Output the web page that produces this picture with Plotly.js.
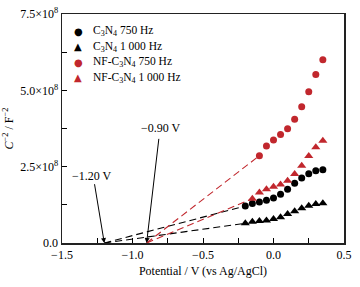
<!DOCTYPE html>
<html>
<head>
<meta charset="utf-8">
<script src="https://cdn.plot.ly/plotly-3.0.1.min.js"></script>
<style>html,body{margin:0;padding:0;background:#fff;}#chart{width:360px;height:287px;}</style>
</head>
<body>
<div id="chart"></div>
<script>
// Data
const potC3N4 = [-0.20,-0.15,-0.10,-0.05,0.00,0.05,0.10,0.15,0.20,0.25,0.30,0.35];
const c3n4_750 = [1.21,1.29,1.34,1.40,1.47,1.60,1.76,1.96,2.13,2.27,2.37,2.40];
const c3n4_1000 = [0.645,0.70,0.72,0.74,0.79,0.84,0.95,1.04,1.14,1.22,1.28,1.30];
const potNF750 = [-0.10,-0.05,0.00,0.05,0.10,0.15,0.20,0.25,0.30,0.35];
const nf_750 = [2.86,3.18,3.37,3.55,3.74,4.05,4.46,4.95,5.52,6.00];
const potNF1000 = [-0.15,-0.10,-0.05,0.00,0.05,0.10,0.15,0.20,0.25,0.30,0.35];
const nf_1000 = [1.45,1.65,1.76,1.84,1.92,2.04,2.26,2.53,2.85,3.14,3.35];
const scale = 1e8;
// Extrapolated flat-band intercepts
const fbC3N4 = -1.20;
const fbNF = -0.90;
const seriesNames = ['C<sub>3</sub>N<sub>4</sub> 750 Hz','C<sub>3</sub>N<sub>4</sub> 1 000 Hz','NF-C<sub>3</sub>N<sub>4</sub> 750 Hz','NF-C<sub>3</sub>N<sub>4</sub> 1 000 Hz'];
const seriesSymbols = ['●','▲','●','▲'];
const yTickVals = [0,1.25,2.5,3.75,5.0,6.25,7.5];
const yTickText = ['0.0','','2.5×10<sup>8</sup>','','5.0×10<sup>8</sup>','','7.5×10<sup>8</sup>'];
const xTickVals = [-1.5,-1.25,-1.0,-0.75,-0.5,-0.25,0,0.25,0.5];
const xTickText = ['−1.5','','−1.0','','−0.5','','0.0','','0.5'];

const red = '#c1272d';
const seriesColors = ['#000','#000',red,red];
const sc = a => a.map(v => v*scale);

function fitLine(x0, xs, ys, color) {
  return {x:[x0, xs[0]], y:[0, ys[0]*scale], mode:'lines', showlegend:false, hoverinfo:'skip',
    line:{color:color, width:1.1, dash:'7px,4px'}};
}

const traces = [
  fitLine(fbC3N4, potC3N4, c3n4_750, '#000'),
  fitLine(fbC3N4, potC3N4, c3n4_1000, '#000'),
  fitLine(fbNF, potNF750, nf_750, red),
  fitLine(fbNF, potNF1000, nf_1000, red),
  {x:potC3N4, y:sc(c3n4_750), mode:'markers', showlegend:false, marker:{symbol:'circle', size:7, color:'#000'}},
  {x:potC3N4, y:sc(c3n4_1000), mode:'markers', showlegend:false, marker:{symbol:'triangle-up', size:8, color:'#000'}},
  {x:potNF750, y:sc(nf_750), mode:'markers', showlegend:false, marker:{symbol:'circle', size:7, color:red}},
  {x:potNF1000, y:sc(nf_1000), mode:'markers', showlegend:false, marker:{symbol:'triangle-up', size:8, color:red}}
];

const serif = '"Liberation Serif", "Times New Roman", serif';
const font = {family:serif, size:12, color:'#000'};

// manual legend (compact spacing)
const legendAnn = [];
const legY0 = 0.924, legDy = 0.0675;
seriesNames.forEach((n, i) => {
  legendAnn.push({xref:'paper', yref:'paper', x:0.057, y:legY0 - i*legDy, xanchor:'center', yanchor:'middle',
    text:seriesSymbols[i], showarrow:false, font:{family:'"DejaVu Sans"', size:10, color:seriesColors[i]}});
  legendAnn.push({xref:'paper', yref:'paper', x:0.103, y:legY0 - i*legDy, xanchor:'left', yanchor:'middle',
    text:n, showarrow:false, font:{family:serif, size:11.5, color:'#000'}});
});

const layout = {
  width:360, height:287,
  margin:{l:62, r:16, t:14, b:44},
  paper_bgcolor:'#fff', plot_bgcolor:'#fff',
  font:font,
  showlegend:false,
  xaxis:{range:[-1.5,0.5], tickvals:xTickVals, ticktext:xTickText, ticks:'inside', ticklen:5, tickcolor:'#000',
    showline:true, linecolor:'#222', linewidth:1.5, mirror:true, showgrid:false, zeroline:false,
    tickfont:{family:serif, size:12},
    title:{text:'Potential / V (vs Ag/AgCl)', font:{family:serif, size:12}, standoff:5}},
  yaxis:{range:[0,7.5e8], tickvals:sc(yTickVals), ticktext:yTickText, ticks:'inside', ticklen:5, tickcolor:'#000',
    showline:true, linecolor:'#222', linewidth:1.5, mirror:true, showgrid:false, zeroline:false,
    tickfont:{family:serif, size:12},
    title:{text:'<i>C</i><sup>−2</sup> / F<sup>−2</sup>', font:{family:serif, size:12}, standoff:4}},
  annotations:[
    {x:fbC3N4, y:0, ax:-1.271, ay:1.975e8, axref:'x', ayref:'y', xref:'x', yref:'y', showarrow:true, arrowhead:2, arrowsize:1, arrowwidth:1, arrowcolor:'#000', text:''},
    {x:fbNF, y:0, ax:-0.812, ay:3.46e8, axref:'x', ayref:'y', xref:'x', yref:'y', showarrow:true, arrowhead:2, arrowsize:1, arrowwidth:1, arrowcolor:'#000', text:''},
    {x:-1.284, y:2.2e8, xref:'x', yref:'y', text:'−1.20 V', showarrow:false, font:{family:serif, size:12}},
    {x:-0.80, y:3.78e8, xref:'x', yref:'y', text:'−0.90 V', showarrow:false, font:{family:serif, size:12}}
  ].concat(legendAnn)
};

Plotly.newPlot('chart', traces, layout, {displayModeBar:false, staticPlot:true});
</script>
</body>
</html>
